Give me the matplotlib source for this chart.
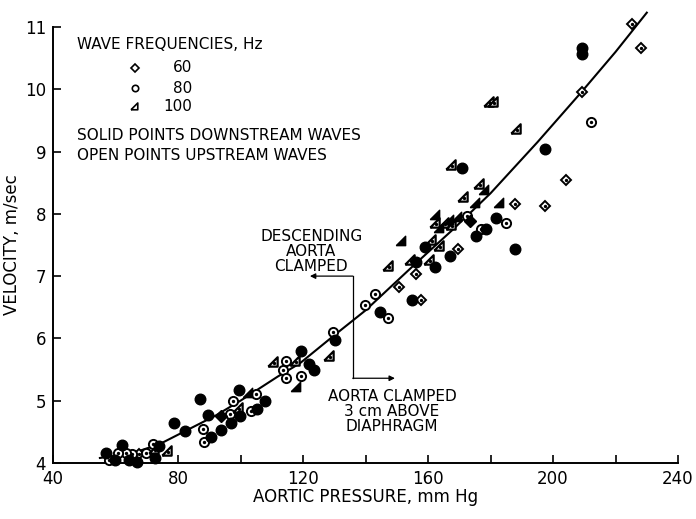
import numpy as np
import matplotlib.pyplot as plt
from matplotlib.markers import MarkerStyle

# fitted curve
curve_x = [55, 65, 74, 83, 92, 100, 112, 119, 130, 140, 156, 168, 180, 195, 209, 220, 230]
curve_y = [4.08, 4.15, 4.30, 4.53, 4.76, 5.0, 5.39, 5.6, 6.05, 6.45, 7.2, 7.75, 8.33, 9.15, 9.95, 10.6, 11.23]

# 60 Hz
up60 = [(225.3, 11.05), (228.3, 10.67), (209.2, 9.96), (204.2, 8.55), (197.5, 8.13),
        (187.7, 8.16), (169.6, 7.44), (156.0, 7.03), (150.7, 6.82), (157.9, 6.62),
        (67.4, 4.15)]
down60 = [(173.3, 7.88), (93.9, 4.75)]

# 80 Hz
up80 = [(212.3, 9.48), (184.8, 7.86), (177.0, 7.75), (172.5, 7.97), (143.1, 6.71),
        (139.9, 6.53), (147.3, 6.32), (129.5, 6.10), (114.4, 5.63), (113.6, 5.49),
        (114.6, 5.37), (119.5, 5.39), (105.1, 5.10), (103.5, 4.84), (97.7, 5.0),
        (96.7, 4.78), (87.9, 4.54), (88.2, 4.33), (71.9, 4.30), (69.6, 4.16),
        (65.4, 4.15), (63.2, 4.16), (60.8, 4.16), (57.9, 4.05)]
down80 = [(209.2, 10.67), (209.2, 10.57), (197.5, 9.04), (187.7, 7.43), (181.8, 7.94),
          (178.6, 7.75), (175.2, 7.65), (170.9, 8.74), (167.0, 7.33), (162.2, 7.14),
          (159.0, 7.46), (156.0, 7.22), (155.0, 6.62), (144.6, 6.42), (130.1, 5.97),
          (119.5, 5.79), (121.8, 5.59), (123.4, 5.50), (107.8, 4.99), (105.4, 4.87),
          (99.8, 4.76), (99.6, 5.17), (96.9, 4.64), (93.9, 4.53), (90.5, 4.42),
          (89.5, 4.77), (87.0, 5.02), (82.2, 4.51), (78.6, 4.64), (73.9, 4.27),
          (72.5, 4.08), (67.0, 4.02), (64.3, 4.05), (62.2, 4.29), (59.7, 4.04),
          (57.1, 4.16)]

# 100 Hz
up100 = [(179.7, 9.78), (181.2, 9.78), (188.4, 9.35), (167.7, 8.77), (176.5, 8.46),
         (171.5, 8.25), (162.4, 7.83), (165.4, 7.83), (167.7, 7.81), (161.4, 7.57),
         (163.8, 7.47), (160.6, 7.25), (154.7, 7.24), (147.5, 7.14), (128.7, 5.70),
         (117.8, 5.62), (110.7, 5.60), (99.6, 4.87), (76.7, 4.18), (72.5, 4.20)]
down100 = [(178.3, 8.37), (175.2, 8.16), (182.9, 8.16), (162.7, 7.97), (167.0, 7.88),
           (169.6, 7.94), (163.8, 7.75), (151.8, 7.55), (118.1, 5.20), (102.7, 5.10)]

xticks = [40, 80, 120, 160, 200, 240]
yticks = [4, 5, 6, 7, 8, 9, 10, 11]

# right triangle, right angle at lower right, centred on its centroid
tri = MarkerStyle([(-1.33, -0.67), (0.67, -0.67), (0.67, 1.33), (-1.33, -0.67)])

plt.rcParams['font.family'] = 'DejaVu Sans'
fig = plt.figure(figsize=(6.96, 5.19), dpi=100)
ax = fig.add_axes([0.0762, 0.108, 0.898, 0.840])

ax.plot(curve_x, curve_y, color='black', lw=1.5, zorder=2, clip_on=False)


def open_pts(pts, marker, ms, mew=1.4):
    x, y = zip(*pts)
    ax.plot(x, y, ls='none', marker=marker, ms=ms, mfc='white', mec='black',
            mew=mew, zorder=3, clip_on=False)
    ax.plot(x, y, ls='none', marker='o', ms=1.4, color='black', zorder=4, clip_on=False)


def solid_pts(pts, marker, ms):
    x, y = zip(*pts)
    ax.plot(x, y, ls='none', marker=marker, ms=ms, color='black', zorder=3, clip_on=False)


open_pts(up60, 'D', 5.6)
open_pts(up80, 'o', 6.6)
open_pts(up100, tri, 9.0, mew=1.6)
solid_pts(down60, 'D', 6.4)
solid_pts(down80, 'o', 7.6)
solid_pts(down100, tri, 9.0)

ax.set_xlim(40, 240)
ax.set_ylim(4, 11)
ax.set_xticks(xticks)
ax.set_xticks([60, 100, 140, 180, 220], minor=True)
ax.set_yticks(yticks)
ax.tick_params(which='both', direction='in', length=6, width=1.2, labelsize=12)
ax.tick_params(axis='x', pad=5)
ax.tick_params(axis='y', pad=5)
for s in ['top', 'right']:
    ax.spines[s].set_visible(False)
for s in ['left', 'bottom']:
    ax.spines[s].set_linewidth(1.4)

ax.set_xlabel('AORTIC PRESSURE, mm Hg', fontsize=12, labelpad=0)
ax.set_ylabel('VELOCITY, m/sec', fontsize=12, labelpad=3)

# key in the upper left
tk = dict(transform=ax.transAxes, fontsize=11, va='center')
ax.text(0.038, 0.959, 'WAVE FREQUENCIES, Hz', **tk)
key = [('D', '60', 4.2), ('o', '80', 4.6), (tri, '100', 6.5)]
key_y = [0.906, 0.860, 0.817]
for (m, lab, ms), yy in zip(key, key_y):
    ax.plot([0.131], [yy], transform=ax.transAxes, ls='none', marker=m, ms=ms,
            mfc='white', mec='black', mew=1.2)
    ax.text(0.222, yy, lab, ha='right', **tk)
ax.text(0.038, 0.752, 'SOLID POINTS DOWNSTREAM WAVES', **tk)
ax.text(0.038, 0.706, 'OPEN POINTS UPSTREAM WAVES', **tk)

# clamp annotations
ax.text(122.6, 7.40, 'DESCENDING\nAORTA\nCLAMPED', ha='center', va='center',
        fontsize=11, linespacing=1.0)
ax.annotate('', xy=(122.2, 7.0), xytext=(135.9, 7.0),
            arrowprops=dict(arrowstyle='-|>', color='black', lw=0.9,
                            mutation_scale=8, shrinkA=0, shrinkB=0))
ax.plot([135.9, 135.9], [7.0, 5.36], color='black', lw=0.9)
ax.annotate('', xy=(149.4, 5.36), xytext=(135.9, 5.36),
            arrowprops=dict(arrowstyle='-|>', color='black', lw=0.9,
                            mutation_scale=8, shrinkA=0, shrinkB=0))
ax.text(148.5, 4.83, 'AORTA CLAMPED\n3 cm ABOVE\nDIAPHRAGM', ha='center', va='center',
        fontsize=11, linespacing=1.0)

fig.savefig('out.png', dpi=100)
